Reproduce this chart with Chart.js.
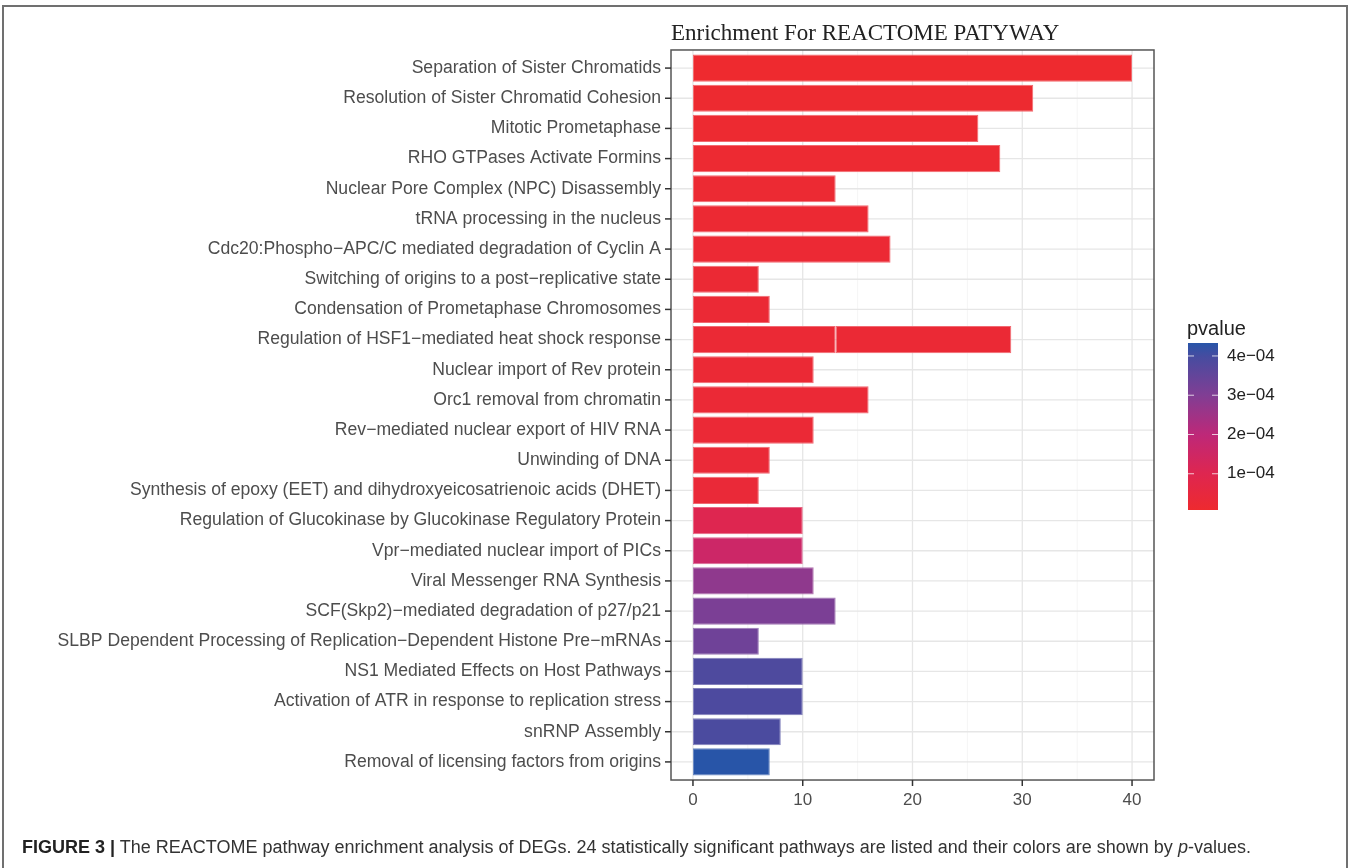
<!DOCTYPE html>
<html>
<head>
<meta charset="utf-8">
<script src="https://cdn.jsdelivr.net/npm/chart.js@4"></script>
<style>
    body { margin: 0; background: #ffffff; }
    #wrap { position: relative; width: 1356px; height: 868px; overflow: hidden; }
    #frame { position: absolute; left: 2px; top: 5px; width: 1346px; height: 900px; border: 2px solid #707070; box-sizing: border-box; }
    #reactomeChart { position: absolute; left: 0; top: 0; }
    #caption { position: absolute; left: 22px; top: 837px; font-family: "Liberation Sans", Arial, sans-serif; font-size: 18px; color: #333333; white-space: nowrap; }
    #caption b { color: #222222; }
</style>
</head>
<body>
<div id="wrap">
    <div id="frame"></div>
    <canvas id="reactomeChart" width="1356" height="868"></canvas>
    <div id="caption"><b>FIGURE 3 |</b> The REACTOME pathway enrichment analysis of DEGs. 24 statistically significant pathways are listed and their colors are shown by <i>p</i>-values.</div>
</div>
<script>

const chartTitle = 'Enrichment For REACTOME PATYWAY';

const pathways = [
    'Separation of Sister Chromatids',
    'Resolution of Sister Chromatid Cohesion',
    'Mitotic Prometaphase',
    'RHO GTPases Activate Formins',
    'Nuclear Pore Complex (NPC) Disassembly',
    'tRNA processing in the nucleus',
    'Cdc20:Phospho\u2212APC/C mediated degradation of Cyclin A',
    'Switching of origins to a post\u2212replicative state',
    'Condensation of Prometaphase Chromosomes',
    'Regulation of HSF1\u2212mediated heat shock response',
    'Nuclear import of Rev protein',
    'Orc1 removal from chromatin',
    'Rev\u2212mediated nuclear export of HIV RNA',
    'Unwinding of DNA',
    'Synthesis of epoxy (EET) and dihydroxyeicosatrienoic acids (DHET)',
    'Regulation of Glucokinase by Glucokinase Regulatory Protein',
    'Vpr\u2212mediated nuclear import of PICs',
    'Viral Messenger RNA Synthesis',
    'SCF(Skp2)\u2212mediated degradation of p27/p21',
    'SLBP Dependent Processing of Replication\u2212Dependent Histone Pre\u2212mRNAs',
    'NS1 Mediated Effects on Host Pathways',
    'Activation of ATR in response to replication stress',
    'snRNP Assembly',
    'Removal of licensing factors from origins'
];

// gene counts (the HSF1 row is two entries stacked: 13 + 16)
const geneCounts  = [40, 31, 26, 28, 13, 16, 18, 6, 7, 13, 11, 16, 11, 7, 6, 10, 10, 11, 13, 6, 10, 10, 8, 7];
const extraCounts = [null, null, null, null, null, null, null, null, null, 16, null, null, null, null, null, null, null, null, null, null, null, null, null, null];

const pvalues = [
    7.7e-6, 1.1e-5, 1.4e-5, 1.6e-5, 1.8e-5, 2.0e-5, 2.1e-5, 2.3e-5,
    2.4e-5, 2.5e-5, 2.6e-5, 2.7e-5, 2.8e-5, 3.0e-5, 3.2e-5, 1.0e-4,
    1.57e-4, 2.76e-4, 3.1e-4, 3.3e-4, 3.85e-4, 3.87e-4, 3.9e-4, 4.33e-4
];

const xTicks = [0, 5, 10, 15, 20, 25, 30, 35, 40];
const legendTicks = [1e-4, 2e-4, 3e-4, 4e-4];
const legendLabels = ['1e\u221204', '2e\u221204', '3e\u221204', '4e\u221204'];

// colour ramp sampled from the reference colour bar (t = 0 at min p, 1 at max p)
const rampStops = [
    [0.00, [238, 42, 47]],
    [0.22, [222, 38, 80]],
    [0.45, [190, 40, 120]],
    [0.69, [128, 62, 148]],
    [0.92, [70, 76, 160]],
    [1.00, [40, 85, 168]]
];

const pMin = Math.min(...pvalues);
const pMax = Math.max(...pvalues);

function rampColor(t, lighten) {
    t = Math.max(0, Math.min(1, t));
    let i = 0;
    while (i < rampStops.length - 2 && t > rampStops[i + 1][0]) i++;
    const a = rampStops[i], b = rampStops[i + 1];
    const f = (t - a[0]) / (b[0] - a[0]);
    let c = a[1].map((v, k) => v + (b[1][k] - v) * f);
    if (lighten) c = c.map(v => v + (255 - v) * lighten);
    return `rgb(${c.map(Math.round).join(',')})`;
}

function pToT(p) {
    return (p - pMin) / (pMax - pMin);
}

const barColors = pvalues.map(p => rampColor(pToT(p)));
const barBorders = pvalues.map(p => rampColor(pToT(p), 0.3));

const labelFont = '"Liberation Sans", Arial, sans-serif';

const panelPlugin = {
    id: 'panelPlugin',
    beforeDatasetsDraw(chart) {
        const ctx = chart.ctx;
        const area = chart.chartArea;
        const x = chart.scales.x;
        const y = chart.scales.y;
        const step = y.getPixelForValue(1) - y.getPixelForValue(0);
        const top = area.top - step * 0.1;
        const bottom = area.bottom + step * 0.1;
        ctx.save();
        // minor + major vertical grid
        xTicks.forEach(v => {
            const px = x.getPixelForValue(v);
            const major = v % 10 === 0;
            ctx.strokeStyle = major ? '#e6e6e6' : '#f2f2f2';
            ctx.lineWidth = major ? 1.3 : 0.8;
            ctx.beginPath();
            ctx.moveTo(px, top);
            ctx.lineTo(px, bottom);
            ctx.stroke();
        });
        // horizontal grid at categories
        ctx.strokeStyle = '#e6e6e6';
        ctx.lineWidth = 1.3;
        pathways.forEach((_, i) => {
            const py = y.getPixelForValue(i);
            ctx.beginPath();
            ctx.moveTo(area.left, py);
            ctx.lineTo(area.right, py);
            ctx.stroke();
        });
        ctx.restore();
    },
    afterDatasetsDraw(chart) {
        const ctx = chart.ctx;
        const area = chart.chartArea;
        const x = chart.scales.x;
        const y = chart.scales.y;
        const step = y.getPixelForValue(1) - y.getPixelForValue(0);
        const top = area.top - step * 0.1;
        const bottom = area.bottom + step * 0.1;
        ctx.save();
        ctx.strokeStyle = '#555555';
        ctx.lineWidth = 1.5;
        ctx.strokeRect(area.left, top, area.right - area.left, bottom - top);
        ctx.strokeStyle = '#333333';
        ctx.lineWidth = 1.5;
        pathways.forEach((_, i) => {
            const py = y.getPixelForValue(i);
            ctx.beginPath();
            ctx.moveTo(area.left - 6, py);
            ctx.lineTo(area.left, py);
            ctx.stroke();
        });
        xTicks.filter(v => v % 10 === 0).forEach(v => {
            const px = x.getPixelForValue(v);
            ctx.beginPath();
            ctx.moveTo(px, bottom);
            ctx.lineTo(px, bottom + 6);
            ctx.stroke();
        });

        // title
        ctx.fillStyle = '#222222';
        ctx.font = '23px "Liberation Serif", "Times New Roman", serif';
        ctx.textAlign = 'left';
        ctx.textBaseline = 'alphabetic';
        ctx.fillText(chartTitle, area.left, 40);

        // colour bar legend
        const lx = 1188, lw = 30, lTop = 343, lBottom = 510;
        const grad = ctx.createLinearGradient(0, lBottom, 0, lTop);
        rampStops.forEach(s => grad.addColorStop(s[0], rampColor(s[0])));
        ctx.fillStyle = grad;
        ctx.fillRect(lx, lTop, lw, lBottom - lTop);
        ctx.fillStyle = '#222222';
        ctx.font = '20px ' + labelFont;
        ctx.textBaseline = 'alphabetic';
        ctx.fillText('pvalue', 1187, 335);
        ctx.font = '17px ' + labelFont;
        ctx.textBaseline = 'middle';
        legendTicks.forEach((p, i) => {
            const py = lBottom - pToT(p) * (lBottom - lTop);
            ctx.strokeStyle = 'rgba(255,255,255,0.75)';
            ctx.lineWidth = 1;
            ctx.beginPath();
            ctx.moveTo(lx, py); ctx.lineTo(lx + 6, py);
            ctx.moveTo(lx + lw - 6, py); ctx.lineTo(lx + lw, py);
            ctx.stroke();
            ctx.fillStyle = '#222222';
            ctx.fillText(legendLabels[i], lx + lw + 9, py);
        });
        ctx.restore();
    }
};

function initReactomeChart() {
    const ctx = document.getElementById('reactomeChart');
    if (!ctx) return;

    const chart = new Chart(ctx, {
        type: 'bar',
        data: {
            labels: pathways,
            datasets: [{
                label: 'Count',
                data: geneCounts,
                backgroundColor: barColors,
                borderColor: barBorders,
                borderWidth: 1,
                borderSkipped: false,
                barPercentage: 0.9,
                categoryPercentage: 1,
                stack: 'count'
            }, {
                label: 'Count (second entry)',
                data: extraCounts,
                backgroundColor: barColors,
                borderColor: barBorders,
                borderWidth: 1,
                borderSkipped: false,
                barPercentage: 0.9,
                categoryPercentage: 1,
                stack: 'count'
            }]
        },
        options: {
            indexAxis: 'y',
            responsive: false,
            animation: false,
            layout: {
                padding: { left: 0, right: 202, top: 53, bottom: 0 }
            },
            plugins: {
                legend: { display: false },
                tooltip: { enabled: false },
                title: { display: false }
            },
            scales: {
                x: {
                    type: 'linear',
                    min: -2,
                    max: 42,
                    stacked: true,
                    afterBuildTicks: scale => {
                        scale.ticks = xTicks.map(v => ({ value: v }));
                    },
                    afterFit: scale => { scale.height = 91; },
                    ticks: {
                        autoSkip: false,
                        maxRotation: 0,
                        padding: 13,
                        color: '#4d4d4d',
                        font: { family: labelFont, size: 17 },
                        callback: v => (v % 10 === 0 ? String(v) : '')
                    },
                    grid: { display: false, drawTicks: false },
                    border: { display: false }
                },
                y: {
                    stacked: true,
                    afterFit: scale => { scale.width = 671; },
                    ticks: {
                        autoSkip: false,
                        padding: 10,
                        color: '#4d4d4d',
                        font: { family: labelFont, size: 17.6 }
                    },
                    grid: { display: false, drawTicks: false },
                    border: { display: false }
                }
            }
        },
        plugins: [panelPlugin]
    });

    window.reactomeChart = chart;
}

document.addEventListener('DOMContentLoaded', function() {
    initReactomeChart();
});
</script>
</body>
</html>
